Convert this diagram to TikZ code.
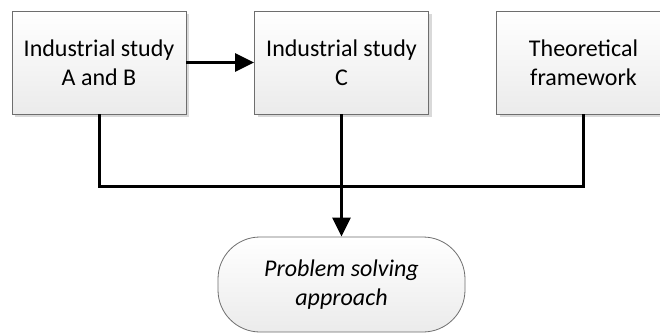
\documentclass[tikz,border=0pt]{standalone}
\usepackage{fontspec}
\setmainfont{Carlito}
\usetikzlibrary{shadows,arrows.meta}
\definecolor{boxborder}{HTML}{6E6E6E}
\definecolor{boxbottom}{HTML}{EBEBEB}
\definecolor{shadowgray}{HTML}{D9D9D9}
\tikzset{
  stepbox/.style={draw=boxborder, line width=0.8pt, top color=white, bottom color=boxbottom,
    minimum width=174pt, minimum height=103pt, align=center, font=\fontsize{24}{29}\selectfont,
    drop shadow={shadow xshift=3pt, shadow yshift=-3pt, fill=shadowgray, opacity=1}},
  endbox/.style={draw=boxborder, line width=0.8pt, top color=white, bottom color=boxbottom,
    rounded corners=42pt, minimum width=247pt, minimum height=95pt, align=center,
    font=\fontsize{24}{29}\selectfont\itshape},
  link/.style={line width=3pt},
  arr/.style={line width=3pt, -{Triangle[length=19pt,width=18pt]}}
}
\begin{document}
\begin{tikzpicture}[x=1pt,y=-1pt]
\clip (0,0) rectangle (660,334);
\fill[white] (0,0) rectangle (660,334);
\node[stepbox] (b1) at (99,62.5) {Industrial study\\A and B};
\node[stepbox] (b2) at (341.5,62.5) {Industrial study\\C};
\node[stepbox] (b3) at (583.5,62.5) {Theoretical\\framework};
\node[endbox] (pa) at (341.5,284.5) {Problem solving\\approach};
\coordinate (j) at (341.5,186);
\draw[link] (b1.south) |- (j) -| (b3.south);
\draw[arr] (b2.south) -- (pa.north);
\draw[arr] (b1.east) -- (b2.west);
\end{tikzpicture}
\end{document}
